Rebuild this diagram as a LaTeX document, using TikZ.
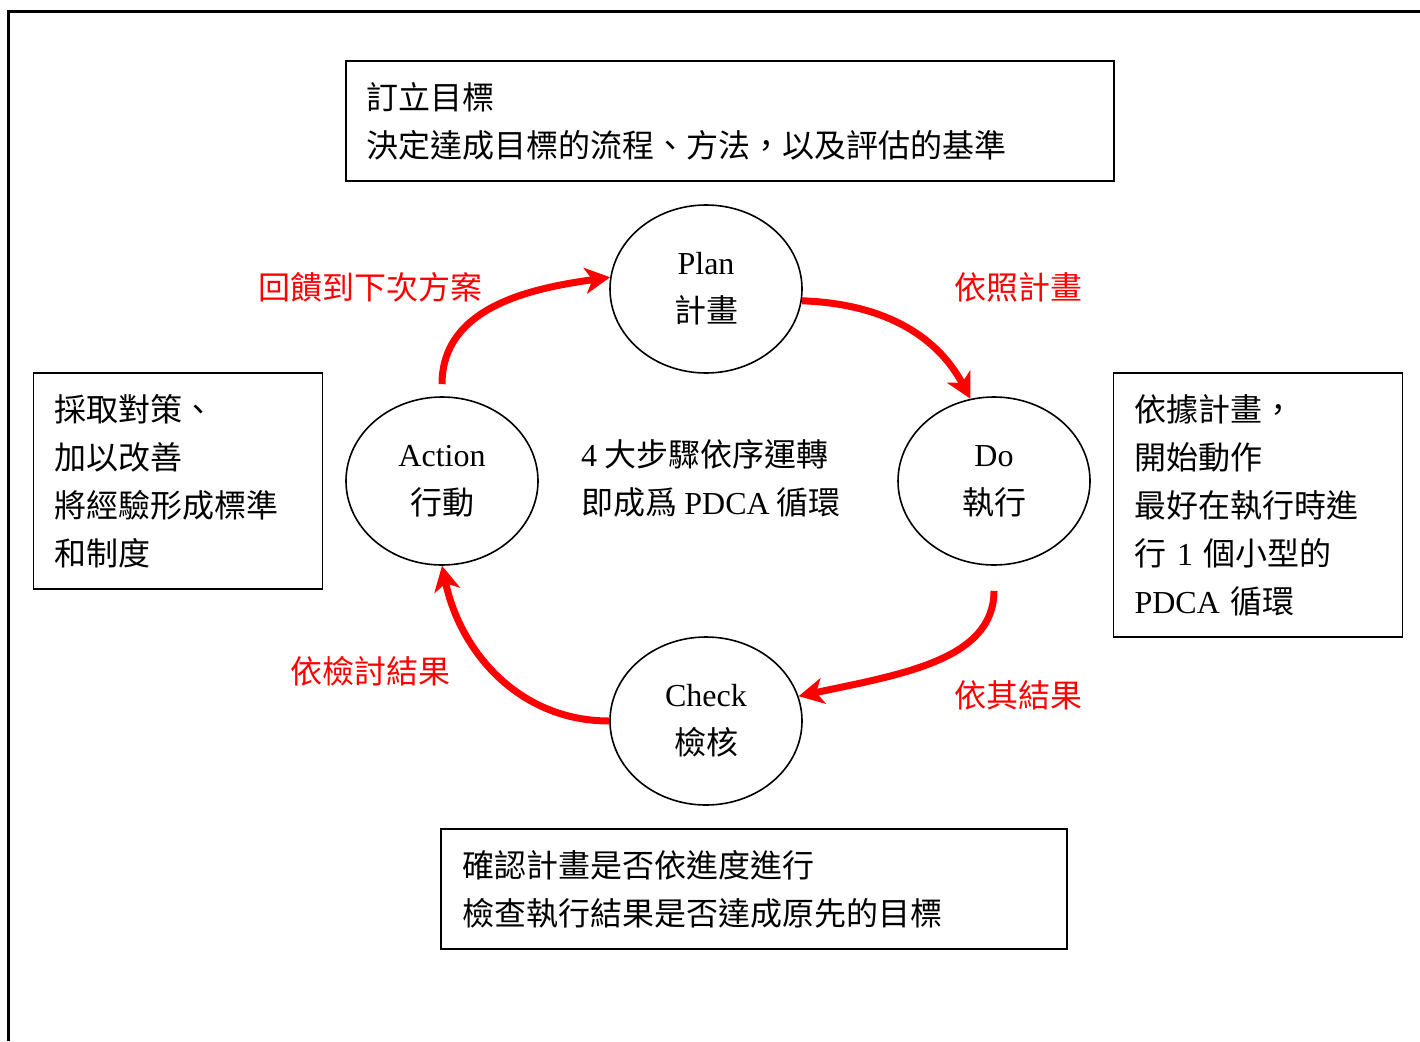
\documentclass[tikz,border=0pt]{standalone}
\usepackage{fontspec}
\setmainfont{Liberation Serif}
\newfontfamily\cjk{Noto Sans CJK TC}
\newcommand\latn[1]{{\normalfont #1}}
\usetikzlibrary{arrows.meta,shapes.geometric}
\begin{document}
\begin{tikzpicture}[x=1pt,y=-1pt,
  txt/.style={font=\fontsize{32}{48}\selectfont\cjk},
  infobox/.style={draw,line width=1.6pt,rectangle,inner xsep=20pt,inner ysep=0pt,align=left,txt},
  stage/.style={draw,line width=1.6pt,ellipse,minimum width=192pt,minimum height=168pt,inner sep=0pt,align=center,txt},
  lab/.style={txt,text=red,inner sep=0pt},
  cyc/.style={draw=red,line width=7pt,-{Stealth[length=25pt,width=26pt,inset=7pt]}}
]
\useasboundingbox (0,0) rectangle (1420,1041);
% frame
\draw[line width=3pt] (1420,11.5) -- (8.5,11.5) -- (8.5,1041);

% boxes
\node[infobox,text width=728pt,minimum height=120pt] (goal) at (730,121)
  {訂立目標\\決定達成目標的流程、方法，以及評估的基準};
\node[infobox,text width=247pt,minimum height=216pt,inner xsep=21pt] (act) at (178,481)
  {採取對策、\\加以改善\\將經驗形成標準\\和制度};
\node[infobox,text width=247pt,minimum height=264pt,inner xsep=21pt] (exe) at (1258,505)
  {依據計畫，\\開始動作\\最好在執行時進\\行 \latn{1} 個小型的\\\latn{PDCA} 循環};
\node[infobox,text width=584pt,minimum height=120pt,inner xsep=21pt] (chk) at (754,889)
  {確認計畫是否依進度進行\\檢查執行結果是否達成原先的目標};

% stages
\node[stage] (plan) at (706,289) {\latn{Plan}\\計畫};
\node[stage] (action) at (442,481) {\latn{Action}\\行動};
\node[stage] (do) at (994,481) {\latn{Do}\\執行};
\node[stage] (check) at (706,721) {\latn{Check}\\檢核};

% center text
\node[txt,align=left,anchor=west,inner sep=0pt] (mid) at (581,478)
  {\latn{4} 大步驟依序運轉\\即成爲 \latn{PDCA} 循環};

% labels
\node[lab] (l1) at (370,287) {回饋到下次方案};
\node[lab] (l2) at (1018,287) {依照計畫};
\node[lab] (l3) at (1018,695) {依其結果};
\node[lab] (l4) at (370,671) {依檢討結果};

% cycle arrows
\draw[cyc] ([yshift=12pt]action.north) to[out=90,in=188] (plan.173);
\draw[cyc] (plan.-7) to[out=-2,in=118] (do.106);
\draw[cyc] ([yshift=-25pt]do.south) to[out=-90,in=12,out looseness=0.8,in looseness=1.2] (check.15);
\draw[cyc] (check.west) to[out=180,in=-78] (action.south);
\end{tikzpicture}
\end{document}
